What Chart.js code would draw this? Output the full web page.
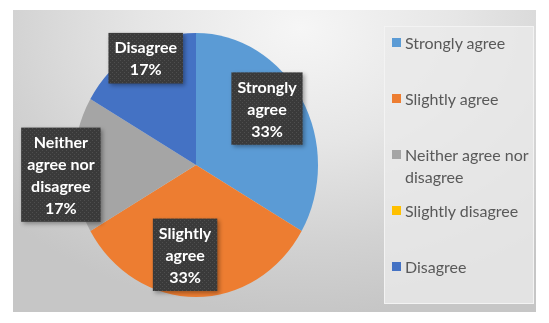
<!DOCTYPE html>
<html><head><meta charset="utf-8">
<script src="https://cdn.jsdelivr.net/npm/chart.js@4.4.1/dist/chart.umd.min.js"></script>
<style>
html,body{margin:0;padding:0;background:#fff;width:549px;height:323px;overflow:hidden;}
#bg{position:absolute;left:13px;top:10px;width:523px;height:302px;
 background:radial-gradient(ellipse 75% 95% at 55% 6%, #f6f6f6 0%, #e6e6e6 40%, #d2d2d2 75%, #c6c6c6 100%);}
#panel{position:absolute;left:384px;top:26px;width:148px;height:276px;background:rgba(234,234,234,0.8);border:1px solid rgba(244,244,244,0.9);}
canvas{position:absolute;left:0;top:0;}
#legend{position:absolute;left:392px;top:0;font-family:Lato,"Open Sans",sans-serif;font-size:16px;color:#595959;}
.item{position:absolute;left:0;width:145px;}
.sw{position:absolute;left:0;top:6px;width:9px;height:9px;}
.tx{position:absolute;left:13px;top:0;width:132px;line-height:22px;white-space:normal;}
</style></head>
<body>
<div id="bg"></div>
<div id="panel"></div>
<canvas id="c" width="549" height="323"></canvas>
<div id="legend"></div>
<script>
const categories = ["Strongly agree", "Slightly agree", "Neither agree nor disagree", "Slightly disagree", "Disagree"];
const values = [2, 2, 1, 0, 1];
const colors = ["#5B9BD5", "#ED7D31", "#A5A5A5", "#FFC000", "#4472C4"];

// HTML legend
const lg = document.getElementById('legend');
categories.forEach((c, i) => {
  const it = document.createElement('div');
  it.className = 'item';
  it.style.top = (32 + i * 56) + 'px';
  it.innerHTML = '<div class="sw" style="background:' + colors[i] + '"></div><div class="tx">' + c + '</div>';
  lg.appendChild(it);
});

const SX = 122 / 132; // horizontal squash of the pie (ellipse)

const ellipsePlugin = {
  id: 'ellipse',
  beforeDatasetsDraw(chart) {
    const arc = chart.getDatasetMeta(0).data[0];
    const ctx = chart.ctx;
    ctx.save();
    ctx.translate(arc.x, arc.y);
    ctx.scale(SX, 1);
    ctx.translate(-arc.x, -arc.y);
  },
  afterDatasetsDraw(chart) { chart.ctx.restore(); }
};

function makePattern(ctx) {
  const p = document.createElement('canvas');
  p.width = 4; p.height = 4;
  const pc = p.getContext('2d');
  pc.fillStyle = '#3a3a3a'; pc.fillRect(0, 0, 4, 4);
  pc.fillStyle = '#4e4e4e'; pc.fillRect(0, 0, 1, 1); pc.fillRect(2, 2, 1, 1);
  return ctx.createPattern(p, 'repeat');
}

function wrap(ctx, text, maxW) {
  const words = text.split(' ');
  const lines = [];
  let cur = '';
  words.forEach(w => {
    const t = cur ? cur + ' ' + w : w;
    if (ctx.measureText(t).width > maxW && cur) { lines.push(cur); cur = w; }
    else cur = t;
  });
  if (cur) lines.push(cur);
  return lines;
}

const labelPlugin = {
  id: 'boxLabels',
  afterDraw(chart, args, opts) {
    const ctx = chart.ctx;
    const meta = chart.getDatasetMeta(0);
    const total = values.reduce((a, b) => a + b, 0);
    const pat = makePattern(ctx);
    meta.data.forEach((arc, i) => {
      const v = values[i];
      if (!v) return;
      const p = arc.getProps(['x', 'y', 'outerRadius', 'startAngle', 'endAngle'], true);
      const mid = (p.startAngle + p.endAngle) / 2 + opts.angleShift[i] * Math.PI / 180;
      const r = p.outerRadius * opts.radial[i];
      const cx = p.x + Math.cos(mid) * r * SX;
      const cy = p.y + Math.sin(mid) * r;
      ctx.save();
      ctx.font = 'bold 16px Lato, "Open Sans", sans-serif';
      const lines = wrap(ctx, categories[i], 80);
      lines.push(Math.round(v / total * 100) + '%');
      const lh = 21.8;
      const tw = Math.max(...lines.map(l => ctx.measureText(l).width));
      const w = tw + 12, h = lines.length * lh + 7;
      const x0 = cx - w / 2, y0 = cy - h / 2;
      ctx.shadowColor = 'rgba(0,0,0,0.35)';
      ctx.shadowBlur = 4; ctx.shadowOffsetX = 2; ctx.shadowOffsetY = 2;
      ctx.fillStyle = pat;
      ctx.fillRect(x0, y0, w, h);
      ctx.shadowColor = 'transparent';
      ctx.fillStyle = '#ffffff';
      ctx.textAlign = 'center'; ctx.textBaseline = 'middle';
      lines.forEach((l, k) => ctx.fillText(l, cx, y0 + 3.5 + lh * (k + 0.5) + 1));
      ctx.restore();
    });
  }
};

new Chart(document.getElementById('c'), {
  type: 'pie',
  data: {
    labels: categories,
    datasets: [{ data: values, backgroundColor: colors, borderWidth: 0 }]
  },
  options: {
    responsive: false,
    animation: false,
    layout: { padding: { top: 33, bottom: 26, left: 64, right: 221 } },
    plugins: {
      legend: { display: false },
      tooltip: { enabled: false },
      boxLabels: {
        radial: [0.722, 0.686, 1.11, 0, 0.908],
        angleShift: [-6.3, 7.5, -3.8, 0, 3]
      }
    }
  },
  plugins: [ellipsePlugin, labelPlugin]
});
</script>
</body></html>
